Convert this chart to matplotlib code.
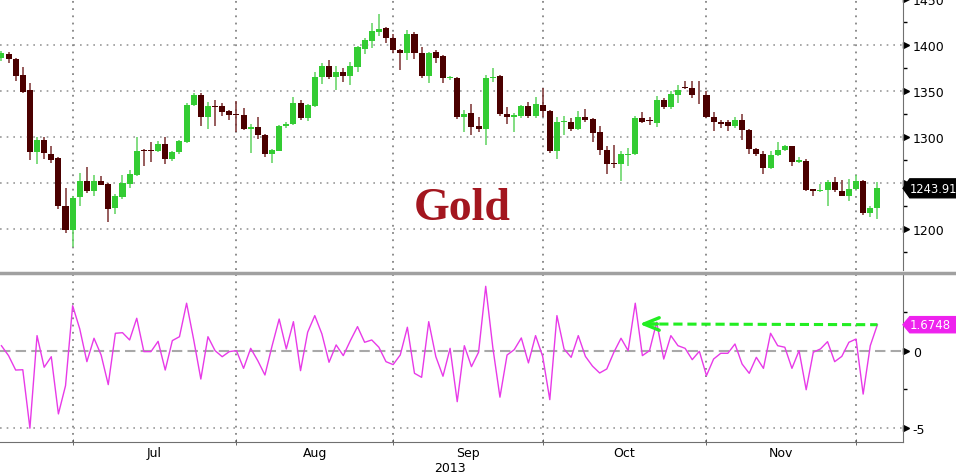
import numpy as np
import pandas as pd
import matplotlib
matplotlib.use('Agg')
import matplotlib.pyplot as plt
import matplotlib.transforms as mtransforms
from matplotlib.lines import Line2D
from matplotlib.patches import Polygon

# daily gold candles, 14 Jun 2013 - 4 Dec 2013 (weekdays)
dates = pd.bdate_range('2013-06-14', '2013-12-04')

opens = [1386, 1390, 1385, 1367, 1351, 1283, 1296, 1281, 1277, 1225,
         1198, 1234, 1252, 1241, 1252, 1249, 1222, 1234, 1249, 1258,
         1286, 1286, 1285, 1292, 1276, 1283, 1294, 1335, 1345, 1321,
         1334, 1333, 1328, 1325, 1324, 1309, 1311, 1302, 1281, 1285,
         1312, 1314, 1337, 1320, 1334, 1365, 1377, 1365, 1371, 1366,
         1376, 1396, 1404, 1414, 1418, 1407, 1395, 1391, 1412, 1391,
         1366, 1392, 1388, 1364, 1364, 1321, 1326, 1312, 1309, 1364,
         1366, 1325, 1322, 1323, 1334, 1323, 1335, 1328, 1285, 1316,
         1316, 1309, 1322, 1319, 1305, 1286, 1271, 1270, 1280, 1281,
         1320, 1318, 1315, 1340, 1332, 1346, 1354, 1353, 1346, 1345,
         1322, 1316, 1316, 1312, 1318, 1307, 1287, 1281, 1266, 1280,
         1286, 1290, 1273, 1274, 1243, 1241, 1242, 1251, 1241, 1235,
         1243, 1252, 1217, 1222]
highs = [1393, 1392, 1386, 1376, 1359, 1300, 1300, 1290, 1278, 1244,
         1235, 1261, 1267, 1258, 1257, 1250, 1238, 1258, 1264, 1300,
         1287, 1294, 1295, 1300, 1284, 1296, 1337, 1348, 1348, 1338,
         1340, 1337, 1329, 1339, 1331, 1314, 1322, 1303, 1287, 1313,
         1316, 1343, 1340, 1336, 1370, 1380, 1384, 1377, 1375, 1381,
         1399, 1408, 1424, 1434, 1420, 1412, 1396, 1416, 1414, 1398,
         1392, 1394, 1389, 1366, 1365, 1329, 1336, 1322, 1367, 1375,
         1367, 1332, 1326, 1335, 1338, 1343, 1353, 1329, 1322, 1323,
         1320, 1328, 1330, 1320, 1312, 1290, 1291, 1285, 1288, 1323,
         1327, 1321, 1344, 1342, 1350, 1356, 1361, 1361, 1361, 1350,
         1327, 1318, 1318, 1322, 1325, 1308, 1288, 1284, 1284, 1294,
         1291, 1290, 1278, 1276, 1243, 1249, 1253, 1256, 1253, 1254,
         1258, 1253, 1225, 1251]
lows = [1382, 1380, 1361, 1348, 1275, 1270, 1276, 1272, 1221, 1195,
        1180, 1225, 1239, 1235, 1247, 1207, 1216, 1232, 1244, 1257,
        1268, 1273, 1283, 1270, 1274, 1281, 1293, 1333, 1312, 1309,
        1312, 1323, 1318, 1305, 1307, 1282, 1298, 1278, 1272, 1284,
        1310, 1313, 1318, 1317, 1332, 1357, 1363, 1351, 1360, 1356,
        1370, 1390, 1397, 1410, 1402, 1391, 1373, 1384, 1385, 1364,
        1359, 1380, 1359, 1362, 1319, 1305, 1302, 1305, 1291, 1360,
        1323, 1314, 1305, 1320, 1320, 1320, 1322, 1282, 1276, 1302,
        1306, 1307, 1316, 1294, 1280, 1259, 1266, 1252, 1268, 1280,
        1315, 1313, 1311, 1330, 1330, 1337, 1352, 1342, 1336, 1320,
        1306, 1310, 1306, 1310, 1296, 1281, 1279, 1260, 1265, 1279,
        1285, 1268, 1272, 1241, 1236, 1240, 1225, 1240, 1235, 1230,
        1242, 1215, 1213, 1210]
closes = [1391, 1385, 1366, 1349, 1283, 1296, 1282, 1275, 1225, 1198,
          1233, 1252, 1241, 1252, 1248, 1221, 1236, 1250, 1259, 1285,
          1285, 1285, 1292, 1276, 1283, 1295, 1335, 1345, 1321, 1333,
          1332, 1327, 1324, 1324, 1308, 1311, 1302, 1281, 1286, 1312,
          1314, 1337, 1320, 1335, 1365, 1377, 1365, 1371, 1366, 1377,
          1398, 1405, 1415, 1417, 1407, 1395, 1391, 1412, 1391, 1366,
          1391, 1386, 1364, 1365, 1321, 1325, 1311, 1309, 1364, 1365,
          1325, 1322, 1324, 1334, 1323, 1336, 1328, 1284, 1316, 1317,
          1309, 1322, 1318, 1304, 1286, 1270, 1270, 1281, 1281, 1320,
          1316, 1317, 1340, 1332, 1347, 1351, 1353, 1345, 1345, 1322,
          1316, 1314, 1312, 1318, 1307, 1287, 1281, 1266, 1280, 1286,
          1290, 1273, 1275, 1242, 1241, 1242, 1251, 1242, 1235, 1243,
          1252, 1217, 1222, 1243.91]

# daily % change (lower panel)
pct_change = [0.32, -0.32, -1.25, -1.23, -5.0, 0.97, -1.07, -0.39, -4.08, -2.26,
              2.9, 1.4, -0.71, 0.8, -0.28, -2.19, 1.12, 1.16, 0.69, 2.09,
              -0.06, -0.06, 0.6, -1.25, 0.65, 0.9, 3.06, 0.7, -1.83, 0.9,
              0.0, -0.39, -0.06, 0.0, -1.14, 0.15, -0.65, -1.57, 0.3, 2.04,
              0.11, 1.87, -1.29, 1.19, 2.26, 1.08, -0.75, 0.37, -0.32, 0.65,
              1.55, 0.54, 0.69, 0.22, -0.71, -0.9, -0.28, 1.51, -1.46, -1.72,
              1.87, -0.39, -1.65, 0.15, -3.29, 0.32, -1.03, -0.1, 4.15, 0.2,
              -3.0, -0.28, 0.06, 0.82, -0.79, 0.97, -0.37, -3.16, 2.26, 0.11,
              -0.43, 0.97, -0.37, -1.0, -1.44, -1.18, -0.1, 0.8, 0.0, 3.06,
              -0.32, 0.0, 1.83, -0.54, 0.97, 0.32, 0.15, -0.58, -0.04, -1.61,
              -0.54, -0.17, -0.17, 0.43, -0.86, -1.46, -0.43, -1.14, 1.12, 0.32,
              0.22, -1.14, 0.0, -2.52, -0.1, 0.11, 0.58, -0.71, -0.37, 0.54,
              0.75, -2.8, 0.32, 1.6748]

price_ticks = [1200, 1250, 1300, 1350, 1400, 1450]
arrow_tip = (89.6, 1.72)

o = np.array(opens); h = np.array(highs); l = np.array(lows); c = np.array(closes)
x = np.arange(len(dates))
month_ends = [i for i in range(len(dates) - 1) if dates[i].month != dates[i + 1].month]
month_mid = [(a + b) / 2 for a, b in zip(month_ends[:-1], month_ends[1:])]
month_lbl = [dates[m + 1].strftime('%b') for m in month_ends[:-1]]

GREEN = '#33CC33'
DARK = '#4B0000'
GRID = '#9A9A9A'

fig = plt.figure(figsize=(9.56, 4.77), dpi=100)
ax1 = fig.add_axes([0, 0.4319, 0.9446, 0.5681])
ax2 = fig.add_axes([0, 0.0713, 0.9446, 0.3501])

# ---- candles
up = c >= o
ax1.vlines(x, l, h, colors=np.where(up, '#5FD35F', '#7A3030'), lw=1.1, zorder=2)
ax1.bar(x, np.maximum(np.abs(c - o), 1.0), bottom=np.minimum(o, c), width=0.85,
        color=np.where(up, GREEN, DARK), linewidth=0, zorder=3)

ax1.set_xlim(-0.2, 126.6)
ax1.set_ylim(1155, 1449)
for v in price_ticks[:-1]:
    ax1.axhline(v, color=GRID, ls=(0, (1, 3)), lw=1.2, zorder=0)
for m in month_ends:
    ax1.axvline(m, color='#858585', ls=(0, (1, 3)), lw=1.3, zorder=0)

ax1.text(64.7, 1210, 'Gold', fontsize=33, fontweight='bold', family='Liberation Serif',
         color='#A3161F', ha='center', va='baseline')

# ---- lower panel
ax2.plot(x, pct_change, color='#E83AE8', lw=1.0, zorder=3)
ax2.axhline(0, color='#A8A8A8', ls=(0, (5, 2.5)), lw=1.5, zorder=1)
ax2.axhline(-5, color=GRID, ls=(0, (1, 3)), lw=1.2, zorder=0)
for m in month_ends:
    ax2.axvline(m, color='#858585', ls=(0, (1, 3)), lw=1.3, zorder=0)
ax2.set_xlim(-0.2, 126.6)
ax2.set_ylim(-5.89, 4.88)

# green dashed arrow back to the October spike
ax2.plot([arrow_tip[0] + 0.8, x[-1]], [arrow_tip[1], pct_change[-1]], color='#22EE22',
         lw=2.2, ls=(0, (3, 1.6)), zorder=4)
ax2.annotate('', xy=arrow_tip, xytext=(arrow_tip[0] + 2.5, arrow_tip[1]),
             arrowprops=dict(arrowstyle='->,head_length=1.1,head_width=0.45', color='#22EE22',
                             lw=2.4, shrinkA=0, shrinkB=0, mutation_scale=10), zorder=5)

# ---- axes styling
for ax in (ax1, ax2):
    for s in ('top', 'left'):
        ax.spines[s].set_visible(False)
    ax.spines['right'].set_color('#707070')
    ax.yaxis.tick_right()
    ax.tick_params(axis='y', which='major', length=0, pad=7, labelsize=9)
    ax.tick_params(axis='y', which='minor', length=3, width=1, color='black', direction='out')
ax1.spines['bottom'].set_visible(False)
ax2.spines['bottom'].set_color('#707070')

ax1.set_xticks([])
ax1.set_yticks(price_ticks)
# the 1250 label sits under the last-price tag
ax1.set_yticklabels(['' if v == 1250 else str(v) for v in price_ticks])
ax1.set_yticks([v + 25 for v in price_ticks[:-1]] + [1175], minor=True)
ax2.set_yticks([-5, 0])
ax2.set_yticklabels(['-5', '0'])
ax2.set_yticks([-2.5, 2.5], minor=True)
ax2.set_xticks(month_mid)
ax2.set_xticklabels(month_lbl)
ax2.set_xticks(month_ends, minor=True)
ax2.tick_params(axis='x', which='major', length=0, pad=3, labelsize=9)
ax2.tick_params(axis='x', which='minor', length=4, direction='inout', color='#505050')
ax2.text(63, -0.15, '2013', fontsize=9, ha='center', va='center',
         transform=mtransforms.blended_transform_factory(ax2.transData, ax2.transAxes))

# triangle markers at major ticks
for ax, ticks in ((ax1, price_ticks), (ax2, [-5, 0])):
    ax.plot([1.0035] * len(ticks), ticks, marker='>', ls='none', ms=4.5, color='black',
            transform=ax.get_yaxis_transform(), clip_on=False)

# last value tags
def value_tag(ax, v, half, text, fc, size):
    tr = ax.get_yaxis_transform()
    ax.add_patch(Polygon([(1.0, v), (1.0075, v + half), (1.07, v + half), (1.07, v - half),
                          (1.0075, v - half)], closed=True, fc=fc, ec=fc, transform=tr,
                         clip_on=False, zorder=6))
    ax.text(1.0078, v, text, color='white', fontsize=size, ha='left', va='center',
            transform=tr, clip_on=False, zorder=7)

value_tag(ax1, closes[-1], 10.3, '%.2f' % closes[-1], 'black', 8.3)
value_tag(ax2, pct_change[-1], 0.52, '%.4f' % pct_change[-1], '#EE22EE', 8.5)

# separator between panels
fig.add_artist(Line2D([0, 1], [1 - 273.5 / 477] * 2, color='#A0A0A0', lw=2.5,
                      transform=fig.transFigure))

fig.savefig('out.png', dpi=100)
